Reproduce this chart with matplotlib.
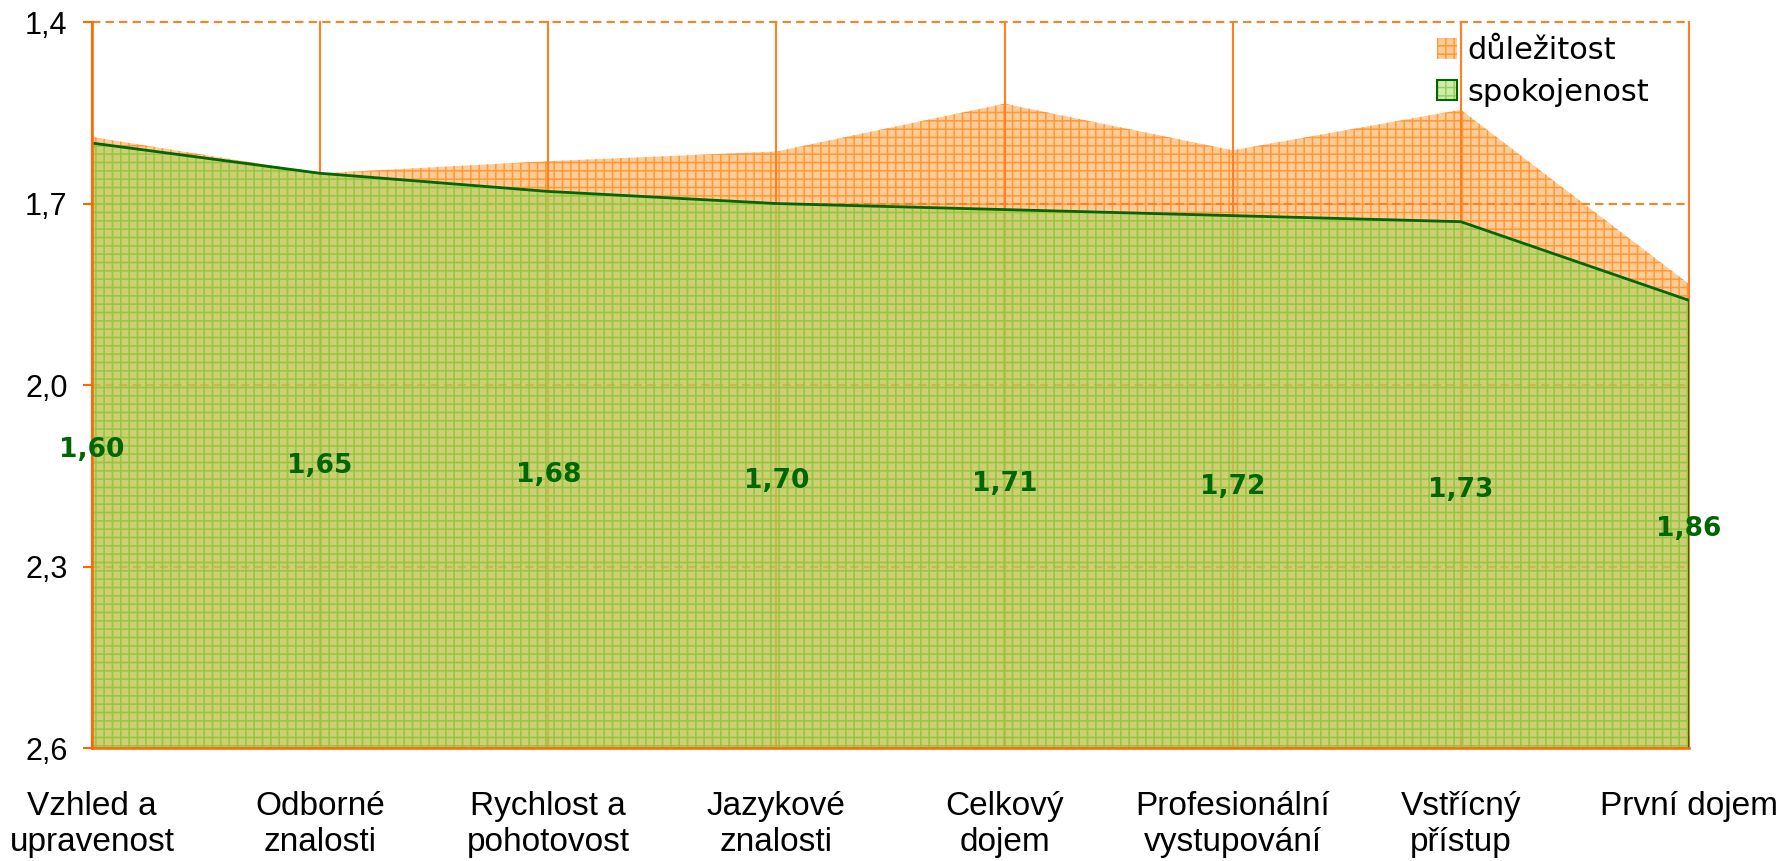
import matplotlib
matplotlib.use('Agg')
import matplotlib.pyplot as plt
from matplotlib.patches import Patch

categories = ['Vzhled a\nupravenost', 'Odborné\nznalosti', 'Rychlost a\npohotovost',
              'Jazykové\nznalosti', 'Celkový\ndojem', 'Profesionální\nvystupování',
              'Vstřícný\npřístup', 'První dojem']
dulezitost = [1.59, 1.65, 1.63, 1.614, 1.535, 1.612, 1.545, 1.833]
spokojenost = [1.60, 1.65, 1.68, 1.70, 1.71, 1.72, 1.73, 1.86]
y_ticks = [1.4, 1.7, 2.0, 2.3, 2.6]
y_tick_labels = ['1,4', '1,7', '2,0', '2,3', '2,6']

ORANGE = '#FF6600'
plt.rcParams['hatch.linewidth'] = 1.1

fig = plt.figure(figsize=(17.85, 8.61), dpi=100)
ax = fig.add_axes([0.0515, 0.1312, 0.8947, 0.8432])

x = list(range(len(categories)))
bottom = y_ticks[-1]

# importance area (behind the grid), satisfaction area above it
ax.fill_between(x, dulezitost, bottom, facecolor='#FFCC99', edgecolor='#FF9933',
                hatch='++', linewidth=0, zorder=1)
ax.fill_between(x, spokojenost, bottom, facecolor='#BACF66', edgecolor='#7ACC3A',
                hatch='++', linewidth=0, alpha=0.7, zorder=2)
ax.plot(x, spokojenost, color='#006600', linewidth=2.0, zorder=2.2)
ax.plot([x[-1], x[-1]], [spokojenost[-1], bottom], color='#006600', linewidth=2.0, zorder=2.2)

# value labels in the middle of the green area
for xi, v in zip(x, spokojenost):
    ax.annotate(f'{v:.2f}'.replace('.', ','), (xi, (v + bottom) / 2), xytext=(0, -3.5),
                textcoords='offset points', ha='center', va='center',
                color='#006600', fontsize=19, fontweight='bold', family='DejaVu Sans', zorder=5)

ax.set_xlim(0, len(categories) - 1)
ax.set_ylim(y_ticks[-1], y_ticks[0])

for side in ['top', 'right']:
    ax.spines[side].set_visible(False)
for side in ['left', 'bottom']:
    ax.spines[side].set_color(ORANGE)
    ax.spines[side].set_linewidth(1.8)
ax.tick_params(axis='y', direction='out', length=6.5, width=1.5, color=ORANGE, pad=11,
               labelsize=22)
ax.tick_params(axis='x', direction='in', length=8.5, width=1.5, color=ORANGE, pad=31,
               labelsize=24)

ax.set_yticks(y_ticks)
ax.set_yticklabels(y_tick_labels)
ax.set_xticks(x)
ax.set_xticklabels(categories, linespacing=1.2)
for lab in ax.get_yticklabels() + ax.get_xticklabels():
    lab.set_fontfamily(['Liberation Sans', 'DejaVu Sans'])

ax.grid(axis='y', color='#FF7F27', linewidth=1.5, linestyle=(0, (4, 2.5)))
ax.grid(axis='x', color='#FF7F27', linewidth=1.5, linestyle='-')
for gl in ax.get_xgridlines() + ax.get_ygridlines():
    gl.set_clip_on(False)

h1 = Patch(facecolor='#FFCC99', edgecolor='#FF9933', hatch='++', linewidth=0)
h2 = (Patch(facecolor='#CCEEAA', edgecolor='#99CC66', hatch='++', linewidth=0),
      Patch(facecolor='none', edgecolor='#006600', linewidth=1.5))
ax.legend([h1, h2], ['důležitost', 'spokojenost'], loc='upper left',
          bbox_to_anchor=(0.805, 0.958), bbox_transform=fig.transFigure,
          frameon=False, borderpad=0, borderaxespad=0,
          handlelength=0.65, handleheight=0.65, handletextpad=0.35, labelspacing=0.42,
          prop={'family': 'DejaVu Sans', 'size': 22})

fig.savefig('out.png', dpi=100)
